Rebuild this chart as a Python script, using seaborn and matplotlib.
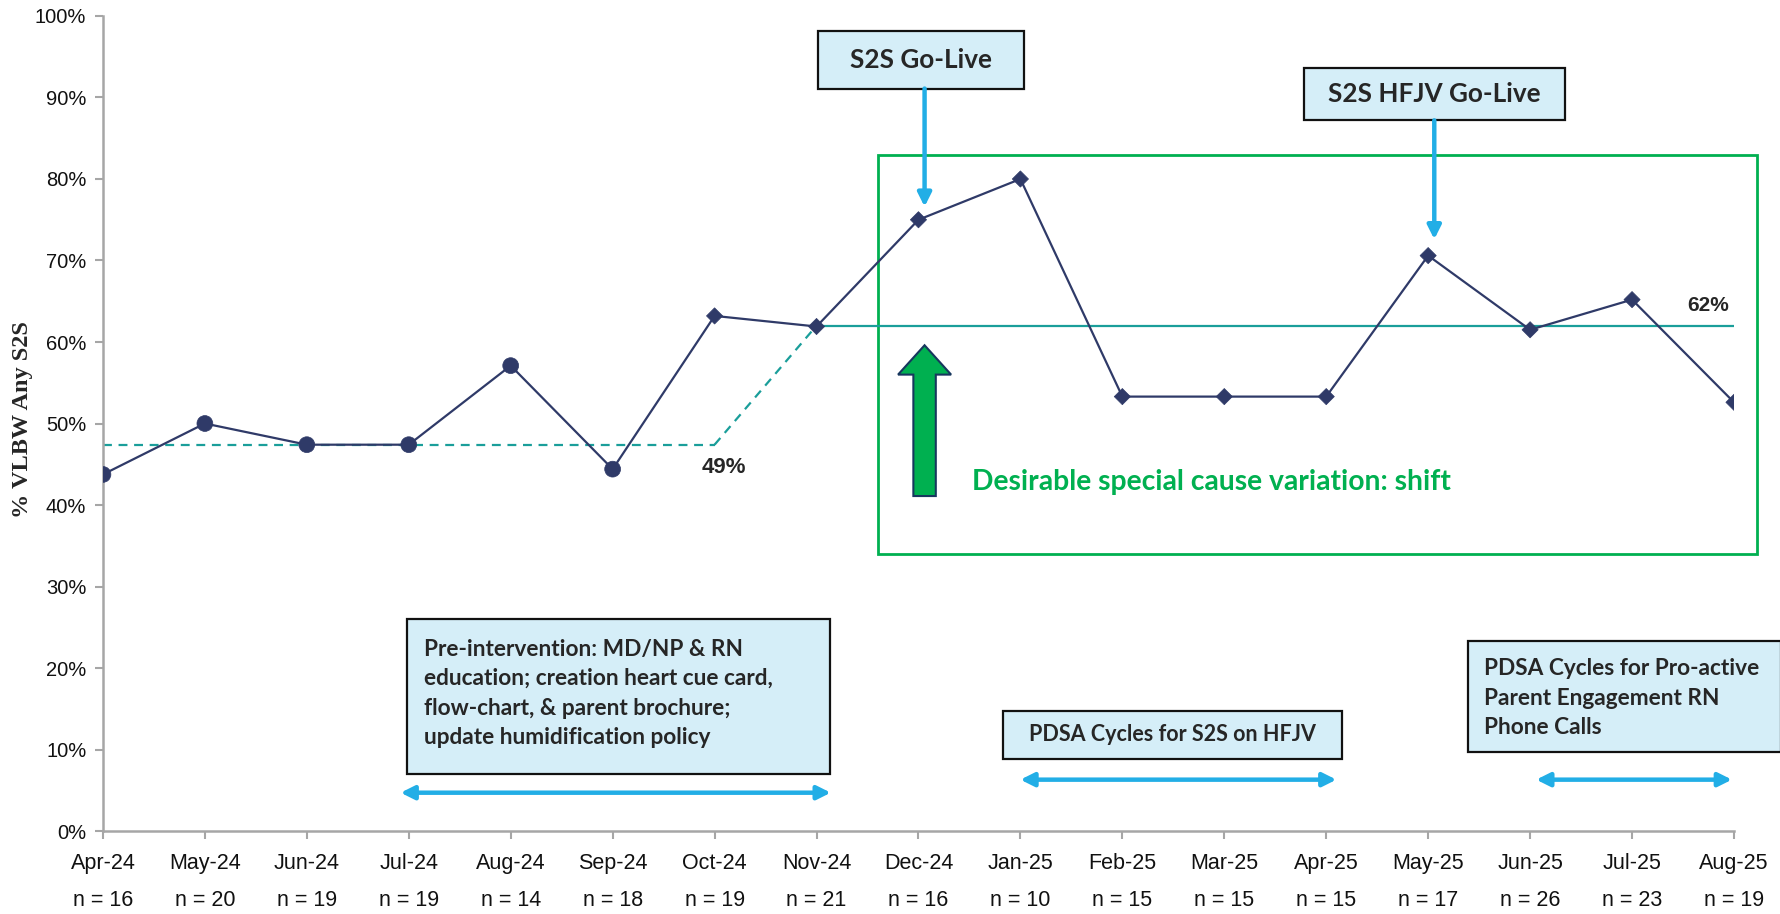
import matplotlib
matplotlib.use("Agg")
import matplotlib.pyplot as plt
import seaborn as sns
import numpy as np
import pandas as pd
from matplotlib import font_manager as fm
from matplotlib.patches import Rectangle, FancyArrow

# ---------------- data ----------------
months = ["Apr-24", "May-24", "Jun-24", "Jul-24", "Aug-24", "Sep-24", "Oct-24",
          "Nov-24", "Dec-24", "Jan-25", "Feb-25", "Mar-25", "Apr-25", "May-25",
          "Jun-25", "Jul-25", "Aug-25"]
n_counts = [16, 20, 19, 19, 14, 18, 19, 21, 16, 10, 15, 15, 15, 17, 26, 23, 19]
pct_s2s = [43.75, 50.0, 47.4, 47.4, 57.1, 44.4, 63.2, 61.9, 75.0, 80.0,
           53.3, 53.3, 53.3, 70.6, 61.5, 65.2, 52.6]
phase = ["Baseline"] * 6 + ["Intervention"] * 11
baseline_center = 47.4
shift_center = 62.0
baseline_label = "49%"
shift_label = "62%"
y_ticks = list(range(0, 101, 10))

# ---------------- fonts ----------------
def pick(name, fallback):
    try:
        fm.findfont(fm.FontProperties(family=name), fallback_to_default=False)
        return name
    except Exception:
        return fallback

SANS = pick("Liberation Sans", "DejaVu Sans")
NARROW = pick("Liberation Sans Narrow", SANS)
SERIF = pick("Liberation Serif", "DejaVu Serif")
BOXF = pick("Lato", SANS)

sns.set_theme(style="white")
plt.rcParams["font.family"] = [SANS, "DejaVu Sans"]

NAVY = "#2F3A68"
TEAL = "#1A9E9A"
BLUE = "#22AEE6"
GREEN = "#00B050"
BOXFILL = "#D5EEF8"
GRAY = "#A6A6A6"

fig = plt.figure(figsize=(17.81, 9.14), dpi=100)
ax = fig.add_axes([0.0578, 0.0908, 0.9158, 0.8917])

df = pd.DataFrame({"x": np.arange(len(months)), "pct": pct_s2s, "phase": phase})

# centre lines
base_x = df["x"][df["phase"] == "Baseline"].tolist() + [df["x"][6]]
ax.plot([base_x[0], base_x[-1]], [baseline_center, baseline_center],
        color=TEAL, lw=1.6, ls=(0, (4, 3)), zorder=2)
ax.plot([6, 7], [baseline_center, shift_center], color=TEAL, lw=1.6,
        ls=(0, (4, 3)), zorder=2)
ax.plot([7, len(months) - 1], [shift_center, shift_center], color=TEAL, lw=1.6, zorder=2)

sns.lineplot(data=df, x="x", y="pct", color=NAVY, lw=1.6, ax=ax, zorder=3)
sns.scatterplot(data=df, x="x", y="pct", style="phase", size="phase",
                markers={"Baseline": "o", "Intervention": "D"},
                sizes={"Baseline": 130, "Intervention": 68},
                color=NAVY, edgecolor=NAVY, linewidth=0.5, legend=False,
                ax=ax, zorder=4)

ax.set_xlim(0, len(months) - 1)
ax.set_ylim(0, 100)
ax.set_xticks(df["x"])
ax.set_xticklabels(months, fontsize=15.5, fontfamily=NARROW)
ax.set_yticks(y_ticks)
ax.set_yticklabels([f"{v}%" for v in y_ticks], fontsize=14.5)
ax.set_xlabel("")
ax.set_ylabel("")

for s in ["top", "right"]:
    ax.spines[s].set_visible(False)
for s in ["left", "bottom"]:
    ax.spines[s].set_color(GRAY)
    ax.spines[s].set_linewidth(1.8)
ax.tick_params(axis="both", direction="out", length=6, width=1.5, color=GRAY,
               colors="#111111", left=True, bottom=True)
ax.tick_params(axis="x", pad=10)
ax.tick_params(axis="y", pad=6)

for i, n in enumerate(n_counts):
    ax.text(i, -0.085, f"n = {n}", transform=ax.get_xaxis_transform(),
            ha="center", va="center", fontsize=15.5, fontfamily=NARROW,
            color="#111111")

fig.text(23 / 1781, 1 - 420 / 914, "% VLBW Any S2S", rotation=90, ha="center",
         va="center", fontsize=17.5, fontweight="bold", fontfamily=SERIF)

# centre line labels
ax.text(5.87, 44.6, baseline_label, ha="left", va="center", fontsize=16,
        fontweight="bold")
ax.text(15.95, 64.5, shift_label, ha="right", va="center", fontsize=15,
        fontweight="bold")

# green shift rectangle
ax.add_patch(Rectangle((7.60, 34.0), 8.63, 49.0, fill=False, ec=GREEN, lw=2.0,
                       clip_on=False, zorder=1))
ax.add_patch(FancyArrow(8.06, 41.1, 0, 18.5, width=0.22, head_width=0.52,
                        head_length=3.6, length_includes_head=True,
                        fc=GREEN, ec="#17375E", lw=1.5, zorder=3))
ax.text(8.53, 42.8, "Desirable special cause variation: shift", color=GREEN,
        fontsize=20.3, fontweight="bold", fontfamily=BOXF, ha="left", va="center")


def box(x0, y0, x1, y1, text, tx, ty, ha="center", size=16.3):
    ax.add_patch(Rectangle((x0, y0), x1 - x0, y1 - y0, fc=BOXFILL, ec="#111111",
                           lw=1.6, clip_on=False, zorder=5))
    ax.text(tx, ty, text, ha=ha, va="center", fontsize=size, fontweight="bold",
            fontfamily=BOXF, linespacing=1.5, zorder=6, clip_on=False)


def arrow(x0, y0, x1, y1, style="-|>"):
    ax.annotate("", xy=(x1, y1), xytext=(x0, y0),
                arrowprops=dict(arrowstyle=style, color=BLUE, lw=3.2,
                                mutation_scale=20, shrinkA=0, shrinkB=0),
                annotation_clip=False, zorder=5)


box(7.01, 91.1, 9.04, 98.1, "S2S Go-Live", 8.025, 94.6, size=18.8)
arrow(8.06, 91.1, 8.06, 76.6)
box(11.78, 87.2, 14.34, 93.6, "S2S HFJV Go-Live", 13.06, 90.4, size=18.8)
arrow(13.06, 87.2, 13.06, 72.6)

box(2.98, 7.0, 7.13, 26.0,
    "Pre-intervention: MD/NP & RN\neducation; creation heart cue card,\n"
    "flow-chart, & parent brochure;\nupdate humidification policy",
    3.15, 16.9, ha="left")
arrow(2.92, 4.7, 7.14, 4.7, style="<|-|>")

box(8.83, 8.8, 12.15, 14.7, "PDSA Cycles for S2S on HFJV", 10.49, 11.8, size=15.5)
arrow(9.0, 6.3, 12.1, 6.3, style="<|-|>")

box(13.39, 9.7, 16.46, 23.3,
    "PDSA Cycles for Pro-active\nParent Engagement RN\nPhone Calls",
    13.55, 16.3, ha="left")
arrow(14.06, 6.3, 15.98, 6.3, style="<|-|>")

fig.savefig("out.png", dpi=100)
